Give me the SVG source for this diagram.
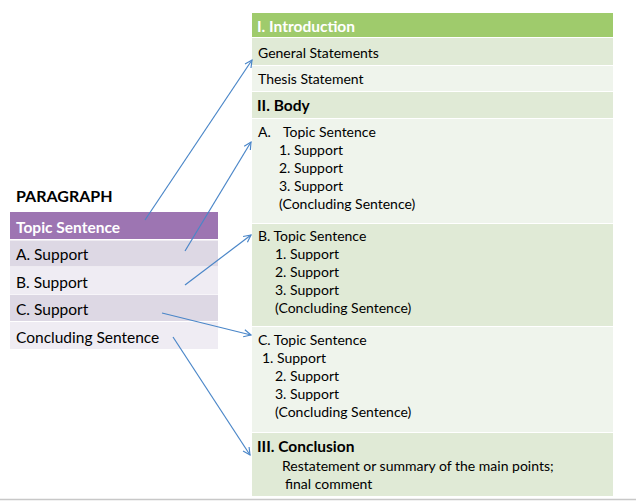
<svg xmlns="http://www.w3.org/2000/svg" width="636" height="501" viewBox="0 0 636 501">
<style>
text{font-family:Lato,"Liberation Sans",sans-serif;fill:#000}
.b{font-size:14px}
.h{font-size:15.5px;font-weight:bold}
.l{font-size:15.5px}
.w{fill:#fff}
.gH{fill:#9FCB6C}
.g1{fill:#E0EAD6}
.g2{fill:#EFF4EC}
.pH{fill:#9D75B2}
.p1{fill:#DDD8E4}
.p2{fill:#EFECF3}
.con{stroke:#4A86C8;stroke-width:1.2;fill:none}
</style>
<defs>
<marker id="ah" viewBox="0 0 10 10" refX="9" refY="5" markerWidth="9" markerHeight="9" markerUnits="userSpaceOnUse" orient="auto">
<path d="M1,1 L9,5 L1,9" fill="none" stroke="#4A86C8" stroke-width="1.3"/>
</marker>
</defs>
<rect width="636" height="501" fill="#fff"/>
<line x1="0" y1="499.5" x2="636" y2="499.5" stroke="#C8C8C8" stroke-width="1.5"/>

<g id="intro-header"><rect class="gH" x="252" y="13" width="361" height="24"/><text class="h w" x="257" y="32">I. Introduction</text></g>
<g id="general"><rect class="g1" x="252" y="38" width="361" height="27"/><text class="b" x="258" y="58">General Statements</text></g>
<g id="thesis"><rect class="g2" x="252" y="66" width="361" height="25"/><text class="b" x="258" y="84">Thesis Statement</text></g>
<g id="body-header"><rect class="g1" x="252" y="92" width="361" height="26"/><text class="h" x="257" y="111">II. Body</text></g>
<g id="body-a"><rect class="g2" x="252" y="119" width="361" height="104"/>
<text class="b" x="258" y="137">A.</text><text class="b" x="283" y="137">Topic Sentence</text>
<text class="b" x="279" y="155">1. Support</text><text class="b" x="279" y="173">2. Support</text><text class="b" x="279" y="191">3. Support</text><text class="b" x="279" y="209">(Concluding Sentence)</text></g>
<g id="body-b"><rect class="g1" x="252" y="224" width="361" height="102"/>
<text class="b" x="258" y="241">B. Topic Sentence</text>
<text class="b" x="275" y="259">1. Support</text><text class="b" x="275" y="277">2. Support</text><text class="b" x="275" y="295">3. Support</text><text class="b" x="275" y="313">(Concluding Sentence)</text></g>
<g id="body-c"><rect class="g2" x="252" y="327" width="361" height="105"/>
<text class="b" x="258" y="345">C. Topic Sentence</text>
<text class="b" x="262" y="363">1. Support</text><text class="b" x="275" y="381">2. Support</text><text class="b" x="275" y="399">3. Support</text><text class="b" x="275" y="417">(Concluding Sentence)</text></g>
<g id="conclusion"><rect class="g1" x="252" y="433" width="361" height="63"/>
<text class="h" x="257" y="452">III. Conclusion</text>
<text class="b" x="282" y="471">Restatement or summary of the main points;</text>
<text class="b" x="285" y="489">final comment</text></g>

<g id="paragraph-title"><text x="16" y="202" style="font-size:16px;font-weight:bold">PARAGRAPH</text></g>
<g id="p-topic"><rect class="pH" x="10" y="212" width="208" height="27"/><text class="l w" x="16" y="233" style="font-weight:bold">Topic Sentence</text></g>
<g id="p-a"><rect class="p1" x="10" y="240.5" width="208" height="26"/><text class="l" x="16" y="260">A. Support</text></g>
<g id="p-b"><rect class="p2" x="10" y="267" width="208" height="27.5"/><text class="l" x="16" y="288">B. Support</text></g>
<g id="p-c"><rect class="p1" x="10" y="295" width="208" height="26"/><text class="l" x="16" y="315">C. Support</text></g>
<g id="p-concl"><rect class="p2" x="10" y="322" width="208" height="27"/><text class="l" x="16" y="343">Concluding Sentence</text></g>

<g id="connectors">
<line class="con" x1="145" y1="220" x2="252" y2="60" marker-end="url(#ah)"/>
<line class="con" x1="185" y1="251" x2="251" y2="142" marker-end="url(#ah)"/>
<line class="con" x1="185" y1="285" x2="251" y2="235" marker-end="url(#ah)"/>
<line class="con" x1="162" y1="313" x2="251" y2="335" marker-end="url(#ah)"/>
<line class="con" x1="173" y1="337" x2="250" y2="455" marker-end="url(#ah)"/>
</g>
</svg>
